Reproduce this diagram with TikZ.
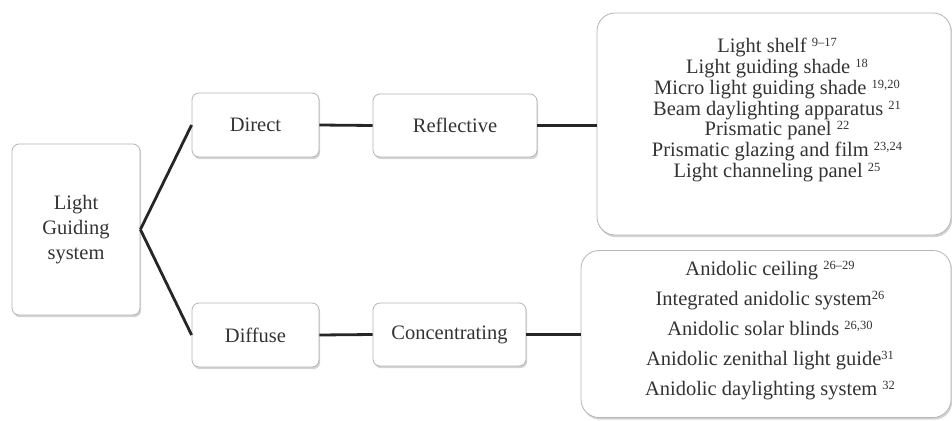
\documentclass[tikz,border=0pt]{standalone}
\usepackage{fontspec}
\setmainfont{Liberation Serif}
\usetikzlibrary{shadows}
\definecolor{boxline}{HTML}{B5B5B5}
\definecolor{txt}{HTML}{333333}
\newcommand\mytightlines{\setlength{\lineskiplimit}{-30pt}\setlength{\lineskip}{0pt}}
\newcommand\sref[1]{\raisebox{6pt}{\fontsize{12.5}{12.5}\selectfont #1}}
\begin{document}
\begin{tikzpicture}[x=1pt,y=-1pt,
  box/.style={draw=boxline, line width=0.8pt, rounded corners=7pt, fill=white,
    drop shadow={shadow xshift=1.2pt, shadow yshift=-2.2pt, opacity=0.35},
    text=txt, font=\rmfamily\fontsize{20.5}{25}\selectfont, inner sep=0pt},
  bigbox/.style={box, rounded corners=18pt},
  listtext/.style={text=txt, align=center, inner sep=0pt},
  link/.style={line width=2.8pt, draw=black!85},
]
\useasboundingbox (0,0) rectangle (952,420);
\node[box, minimum width=128pt, minimum height=171pt, align=center] (lgs) at (76,229.5) {Light\\Guiding\\system};
\node[box, minimum width=127pt, minimum height=64pt] (direct) at (255.5,125) {Direct};
\node[box, minimum width=127pt, minimum height=64pt] (diffuse) at (255.5,335) {Diffuse};
\node[box, minimum width=164pt, minimum height=63pt] (reflective) at (455,125.5) {Reflective};
\node[box, minimum width=153pt, minimum height=63pt] (concentrating) at (449.5,334.5) {Concentrating};
\node[bigbox, minimum width=354pt, minimum height=222pt] (topbox) at (774,124) {};
\node[bigbox, minimum width=370pt, minimum height=167pt] (botbox) at (766,334) {};
\node[listtext, font={\rmfamily\fontsize{20.5}{20.8}\selectfont\mytightlines}] (toplist) at (777,110) {%
Light shelf \sref{9--17}\\
Light guiding shade \sref{18}\\
Micro light guiding shade \sref{19,20}\\
Beam daylighting apparatus \sref{21}\\
Prismatic panel \sref{22}\\
Prismatic glazing and film \sref{23,24}\\
Light channeling panel \sref{25}};
\node[listtext, font={\rmfamily\fontsize{20.5}{30}\selectfont\mytightlines}] (botlist) at (770,331) {%
Anidolic ceiling \sref{26--29}\\
Integrated anidolic system\sref{26}\\
Anidolic solar blinds \sref{26,30}\\
Anidolic zenithal light guide\sref{31}\\
Anidolic daylighting system \sref{32}};
\draw[link] (lgs.east) -- (direct.west);
\draw[link] (lgs.east) -- (diffuse.west);
\draw[link] (direct.east) -- (reflective.west);
\draw[link] (diffuse.east) -- (concentrating.west);
\draw[link] (reflective.east) -- (reflective.east -| topbox.west);
\draw[link] (concentrating.east) -- (concentrating.east -| botbox.west);
\end{tikzpicture}
\end{document}
